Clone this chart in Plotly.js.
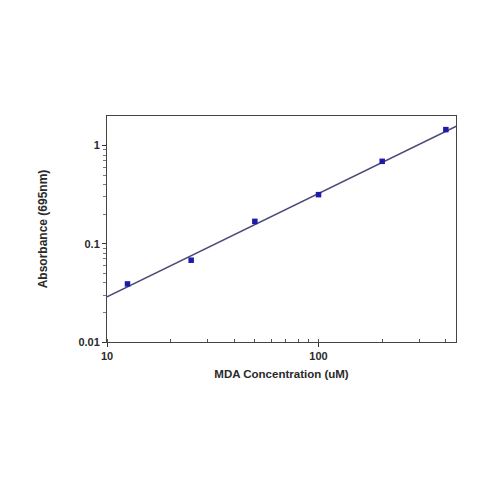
<!DOCTYPE html>
<html>
<head>
<meta charset="utf-8">
<script src="https://cdn.plot.ly/plotly-3.0.1.min.js"></script>
<style>
  html, body { margin: 0; padding: 0; background: #ffffff; }
  #chart { width: 500px; height: 500px; }
</style>
</head>
<body>
<div id="chart"></div>
<script>
  // standard curve points
  const concentration = [12.5, 25, 50, 100, 200, 400];
  const absorbance = [0.039, 0.068, 0.169, 0.316, 0.69, 1.45];

  // fitted line, end points
  const fitX = [10, 450];
  const fitY = [0.0288, 1.58];

  const xTickVals = [10, 100];
  const xTickText = ['10', '100'];
  const yTickVals = [0.01, 0.1, 1];
  const yTickText = ['0.01', '0.1', '1'];

  const FONT = 'Liberation Sans, Arial, sans-serif';

  const traces = [
    {
      x: fitX,
      y: fitY,
      mode: 'lines',
      line: { color: '#4a4a78', width: 1.5 },
      hoverinfo: 'skip',
      showlegend: false
    },
    {
      x: concentration,
      y: absorbance,
      mode: 'markers',
      marker: { symbol: 'square', size: 5.5, color: '#1c1ca8' },
      showlegend: false
    }
  ];

  const layout = {
    width: 500,
    height: 500,
    margin: { l: 107, r: 44, t: 116, b: 158 },
    paper_bgcolor: '#ffffff',
    plot_bgcolor: '#ffffff',
    font: { family: FONT, size: 11, color: '#2a2a2a' },
    showlegend: false,
    xaxis: {
      type: 'log',
      range: [1, 2.65],
      tickvals: xTickVals,
      ticktext: xTickText,
      ticks: 'outside',
      ticklen: 4,
      tickcolor: '#333333',
      tickfont: { family: FONT, size: 11, weight: 'bold', color: '#2a2a2a' },
      minor: { dtick: 'D1', ticks: 'inside', ticklen: 3, tickcolor: '#555555', showgrid: false },
      showgrid: false,
      zeroline: false,
      showline: true,
      linecolor: '#444444',
      linewidth: 1,
      mirror: true,
      title: { text: 'MDA Concentration (uM)', font: { family: FONT, size: 11.5, weight: 'bold', color: '#2a2a2a' }, standoff: 8 }
    },
    yaxis: {
      type: 'log',
      range: [-2, 0.3],
      tickvals: yTickVals,
      ticktext: yTickText,
      ticks: 'outside',
      ticklen: 4,
      tickcolor: '#333333',
      tickfont: { family: FONT, size: 11, weight: 'bold', color: '#2a2a2a' },
      minor: { dtick: 'D1', ticks: 'outside', ticklen: 3, tickcolor: '#777777', showgrid: false },
      showgrid: false,
      zeroline: false,
      showline: true,
      linecolor: '#444444',
      linewidth: 1,
      mirror: true,
      title: { text: 'Absorbance (695nm)', font: { family: FONT, size: 12, weight: 'bold', color: '#2a2a2a' }, standoff: 28 }
    }
  };

  Plotly.newPlot('chart', traces, layout, { displayModeBar: false, staticPlot: true });
</script>
</body>
</html>
